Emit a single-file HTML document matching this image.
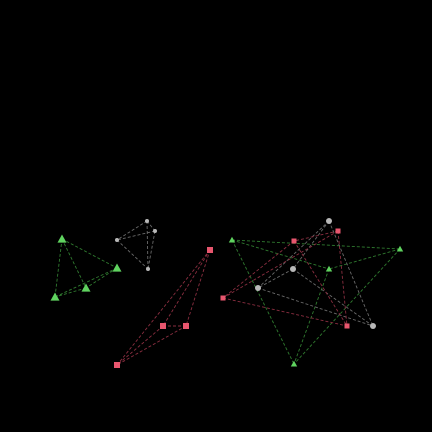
<!DOCTYPE html>
<html><head><meta charset="utf-8"><style>
html,body{margin:0;padding:0;background:#000;width:432px;height:432px;overflow:hidden}
svg{display:block}
</style></head><body>
<svg id="chart" width="432" height="432" xmlns="http://www.w3.org/2000/svg">
<rect width="432" height="432" fill="#000"/>
<g id="edges"></g>
<g id="nodes"></g>
</svg>
<script>
const groupNames = ["green-left","gray-left","red-left","green-right","gray-right","red-right"];
const groupKinds = ["tri","circ","sq","tri","circ","sq"];
const groupSizes = [4.5,2,3,3.2,3,2.5];
const nodeX = [
 [62,117,86,55],
 [147,155,117,148],
 [210,163,186,117],
 [232,400,329,294],
 [329,293,258,373],
 [338,294,223,347]
];
const nodeY = [
 [239,268,288,297],
 [221,231,240,269],
 [250,326,326,365],
 [240,249,269,364],
 [221,269,288,326],
 [231,241,298,326]
];
const edgeA = [0,0,0,1,1,2];
const edgeB = [1,2,3,2,3,3];
const colors = {tri:["#5fd35f","#2f7a2f"],circ:["#b8b8b8","#6a6a6a"],sq:["#e8566e","#8a2e40"]};
const NS="http://www.w3.org/2000/svg";
const eg=document.getElementById('edges'), ng=document.getElementById('nodes');
groupNames.forEach((g,gi)=>{
  const k=groupKinds[gi];
  for(let e=0;e<edgeA.length;e++){
    const a=edgeA[e],b=edgeB[e];
    const l=document.createElementNS(NS,'line');
    l.setAttribute('x1',nodeX[gi][a]);l.setAttribute('y1',nodeY[gi][a]);
    l.setAttribute('x2',nodeX[gi][b]);l.setAttribute('y2',nodeY[gi][b]);
    l.setAttribute('stroke',colors[k][1]);l.setAttribute('stroke-width','0.9');
    l.setAttribute('stroke-dasharray','3,2');
    
    
    eg.appendChild(l);
  }
  const s=groupSizes[gi];
  for(let i=0;i<nodeX[gi].length;i++){
    const x=nodeX[gi][i],y=nodeY[gi][i];let el;
    if(k==='tri'){el=document.createElementNS(NS,'polygon');
      el.setAttribute('points',`${x},${y-s} ${x-s},${y+s*0.8} ${x+s},${y+s*0.8}`);}
    else if(k==='circ'){el=document.createElementNS(NS,'circle');
      el.setAttribute('cx',x);el.setAttribute('cy',y);el.setAttribute('r',s);}
    else{el=document.createElementNS(NS,'rect');
      el.setAttribute('x',x-s);el.setAttribute('y',y-s);el.setAttribute('width',2*s);el.setAttribute('height',2*s);}
    el.setAttribute('fill',colors[k][0]);
    
    
    ng.appendChild(el);
  }
});
</script>
</body></html>
